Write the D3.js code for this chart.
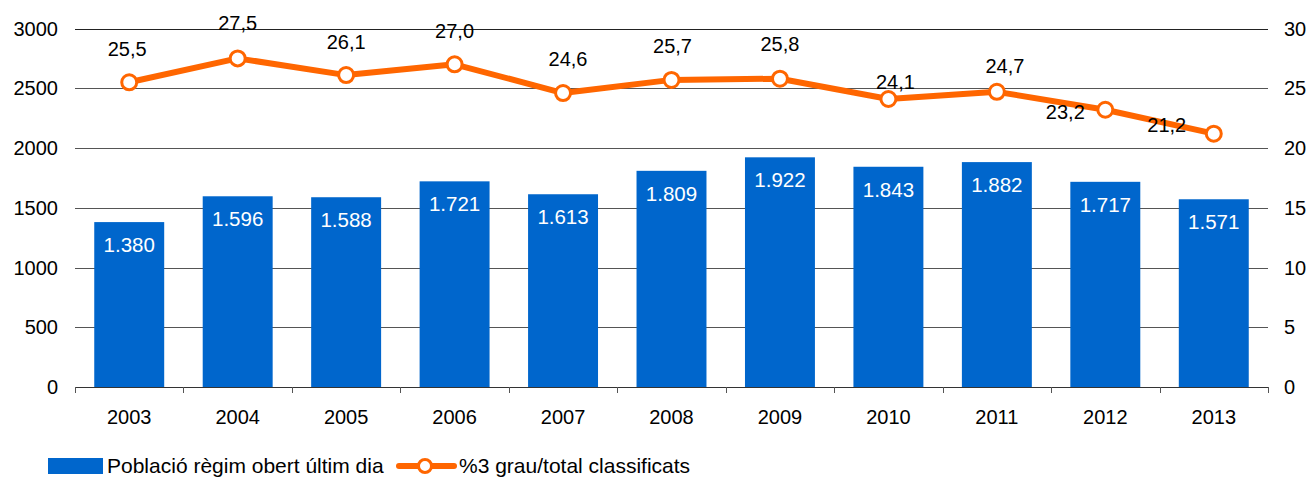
<!DOCTYPE html>
<html><head><meta charset="utf-8">
<script src="https://cdn.jsdelivr.net/npm/d3@7"></script>
<style>body{margin:0;background:#fff}svg{display:block;font-family:"Liberation Sans",Arial,sans-serif}</style>
</head><body><svg id="c" width="1309" height="477"></svg>
<script>
const years = ["2003","2004","2005","2006","2007","2008","2009","2010","2011","2012","2013"];
const poblacio = [1380,1596,1588,1721,1613,1809,1922,1843,1882,1717,1571];
const pct3grau = [25.5,27.5,26.1,27.0,24.6,25.7,25.8,24.1,24.7,23.2,21.2];
const leftTicks = [0,500,1000,1500,2000,2500,3000];
const rightTicks = [0,5,10,15,20,25,30];
const seriesNames = ["Població règim obert últim dia","%3 grau/total classificats"];

const svg = d3.select("#c");
const L = 75, R = 1268, T = 28.5, B = 387;
const FS = 20;
const x = d3.scaleBand().domain(years).range([L, R]).paddingInner(0.355).paddingOuter(0.355/2);
const yL = d3.scaleLinear().domain([0,3000]).range([B, T]);
const yR = d3.scaleLinear().domain([0,30]).range([B, T]);
const fmtThousands = v => { const s = String(v); return s.length > 3 ? s.slice(0, s.length-3) + "." + s.slice(-3) : s; };
const fmtComma = v => v.toFixed(1).replace(".", ",");

// gridlines
svg.append("g").selectAll("line").data(leftTicks.filter(d=>d>0)).join("line")
  .attr("x1", L).attr("x2", R).attr("y1", d=>Math.round(yL(d))+0.5).attr("y2", d=>Math.round(yL(d))+0.5)
  .attr("stroke", d => d===3000 ? "#222" : "#555").attr("stroke-width", 1);

// left axis labels
svg.append("g").selectAll("text").data(leftTicks).join("text")
  .attr("x", 58).attr("y", d=>yL(d)).attr("dy","0.35em").attr("text-anchor","end")
  .attr("font-size", FS).attr("fill","#000").text(d=>d);
// right axis labels
svg.append("g").selectAll("text").data(rightTicks).join("text")
  .attr("x", 1284).attr("y", d=>yR(d)).attr("dy","0.35em").attr("text-anchor","start")
  .attr("font-size", FS).attr("fill","#000").text(d=>d);

// bars
svg.append("g").selectAll("rect").data(years).join("rect")
  .attr("x", d=>x(d)).attr("width", x.bandwidth())
  .attr("y", (d,i)=>yL(poblacio[i])).attr("height", (d,i)=>B - yL(poblacio[i]))
  .attr("fill", "#0066CC");
svg.append("g").selectAll("text").data(years).join("text")
  .attr("x", d=>x(d)+x.bandwidth()/2).attr("y", (d,i)=>yL(poblacio[i]) + 30)
  .attr("text-anchor","middle").attr("font-size", 20.5).attr("fill","#fff")
  .text((d,i)=>fmtThousands(poblacio[i]));

// x axis
const bounds = d3.range(years.length+1).map(i => L + (R-L)*i/years.length);
svg.append("line").attr("x1", L).attr("x2", R).attr("y1", B+0.5).attr("y2", B+0.5).attr("stroke","#333");
svg.append("g").selectAll("line").data(bounds).join("line")
  .attr("x1", d=>Math.round(d)+0.5).attr("x2", d=>Math.round(d)+0.5).attr("y1", B).attr("y2", B+6).attr("stroke","#555");
svg.append("g").selectAll("text").data(years).join("text")
  .attr("x", d=>x(d)+x.bandwidth()/2).attr("y", 424).attr("text-anchor","middle")
  .attr("font-size", FS).attr("fill","#000").text(d=>d);

// line
const cx = d => x(d)+x.bandwidth()/2;
const line = d3.line().x((d,i)=>cx(years[i])).y(d=>yR(d));
svg.append("path").datum(pct3grau).attr("d", line).attr("fill","none")
  .attr("stroke","#FF6600").attr("stroke-width",6).attr("stroke-linejoin","round");
svg.append("g").selectAll("circle").data(pct3grau).join("circle")
  .attr("cx",(d,i)=>cx(years[i])).attr("cy", d=>yR(d)).attr("r", 7.5)
  .attr("fill","#fff").attr("stroke","#FF6600").attr("stroke-width",3);

// line labels (placement offsets)
const labelOff = [[-2,-26],[0,-28],[0,-26],[0,-26],[5,-27],[1,-27],[0,-27.5],[7,-10],[8,-19],[-40,9],[-47,-2]];
svg.append("g").selectAll("text").data(pct3grau).join("text")
  .attr("x",(d,i)=>cx(years[i]) + labelOff[i][0]).attr("y",(d,i)=>yR(d) + labelOff[i][1])
  .attr("text-anchor","middle").attr("font-size",FS).attr("fill","#000").text(d=>fmtComma(d));

// legend
const lg = svg.append("g");
lg.append("rect").attr("x",48).attr("y",458).attr("width",55).attr("height",16).attr("fill","#0066CC");
lg.append("text").attr("x",107).attr("y",473).attr("font-size",21).attr("fill","#000").text(seriesNames[0]);
lg.append("line").attr("x1",399).attr("x2",454).attr("y1",466).attr("y2",466).attr("stroke","#FF6600").attr("stroke-width",6).attr("stroke-linecap","round");
lg.append("circle").attr("cx",425).attr("cy",466).attr("r",6.5).attr("fill","#fff").attr("stroke","#FF6600").attr("stroke-width",3);
lg.append("text").attr("x",459).attr("y",473).attr("font-size",21).attr("fill","#000").text(seriesNames[1]);
</script></body></html>
